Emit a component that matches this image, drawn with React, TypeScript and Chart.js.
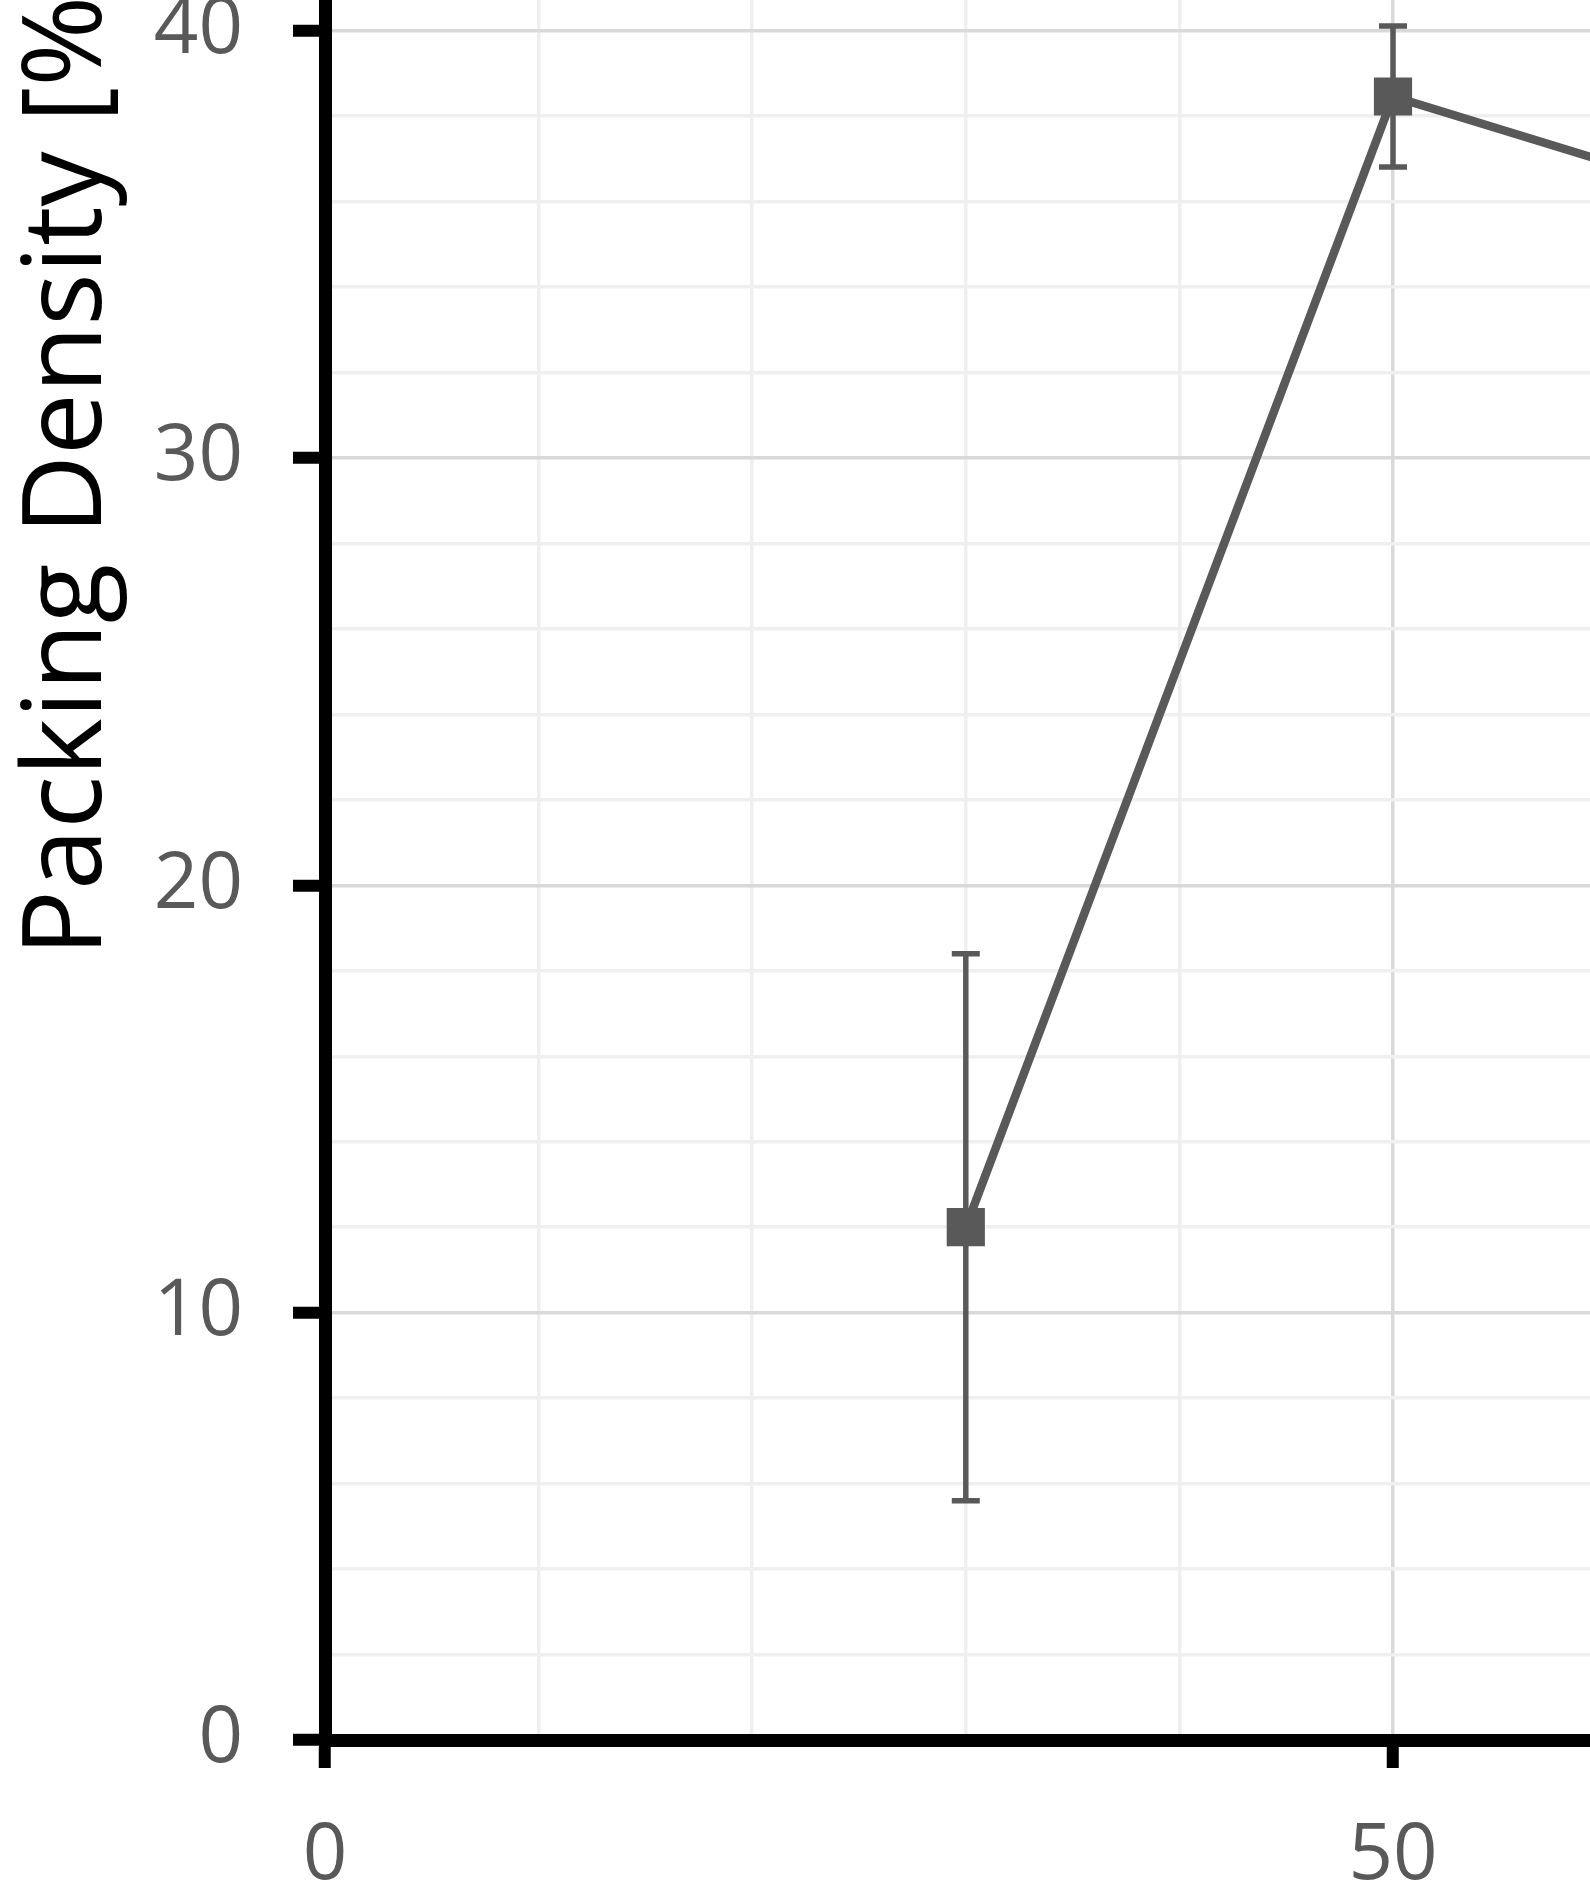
import React, { useEffect, useRef } from 'react';
import { Chart, registerables } from 'chart.js';

Chart.register(...registerables);

// Measured points: x position, mean packing density and its error (±)
const xValues = [30, 50, 70];
const densityMeans = [12.0, 38.46, 35.4];
const densityErrors = [6.4, 1.65, 1.5];

// Labelled ticks; the grid also carries unlabelled minor steps
const xTickLabels = [0, 50, 100];
const yTickLabels = [0, 10, 20, 30, 40, 50, 60];
const xMinorStep = 10;
const yMinorStep = 2;

const yAxisTitle = 'Packing Density [%]';

const LINE_GREY = '#595959';
const MAJOR_GRID = '#d9d9d9';
const MINOR_GRID = '#efefef';

const CANVAS_W = 2560;
const CANVAS_H = 2820;

const errorBarPlugin = {
  id: 'errorBars',
  beforeDatasetsDraw(chart: any) {
    const { ctx, chartArea, scales } = chart;
    const meta = chart.getDatasetMeta(0);
    ctx.save();
    ctx.beginPath();
    ctx.rect(chartArea.left, chartArea.top, chartArea.right - chartArea.left, chartArea.bottom - chartArea.top);
    ctx.clip();
    ctx.strokeStyle = LINE_GREY;
    ctx.lineWidth = 5.5;
    ctx.lineCap = 'butt';
    meta.data.forEach((pt: any, i: number) => {
      const x = pt.x;
      const yTop = scales.y.getPixelForValue(densityMeans[i] + densityErrors[i]);
      const yBot = scales.y.getPixelForValue(densityMeans[i] - densityErrors[i]);
      const cap = 14;
      ctx.beginPath();
      ctx.moveTo(x, yTop);
      ctx.lineTo(x, yBot);
      ctx.moveTo(x - cap, yTop);
      ctx.lineTo(x + cap, yTop);
      ctx.moveTo(x - cap, yBot);
      ctx.lineTo(x + cap, yBot);
      ctx.stroke();
    });
    ctx.restore();
  },
};

export default function App() {
  const canvasRef = useRef<HTMLCanvasElement | null>(null);

  useEffect(() => {
    if (!canvasRef.current) return;
    const points = xValues.map((x, i) => ({ x, y: densityMeans[i] }));
    const isMajorX = (v: number) => xTickLabels.includes(v);
    const isMajorY = (v: number) => yTickLabels.includes(v);

    const chart = new Chart(canvasRef.current, {
      type: 'line',
      data: {
        datasets: [
          {
            data: points,
            borderColor: LINE_GREY,
            backgroundColor: LINE_GREY,
            borderWidth: 8.5,
            pointStyle: 'rect',
            pointRadius: 27,
            pointBorderWidth: 0,
            pointBackgroundColor: LINE_GREY,
            tension: 0,
            fill: false,
          },
        ],
      },
      options: {
        animation: false,
        responsive: false,
        devicePixelRatio: 1,
        layout: { padding: { left: 0, top: 46, right: 99, bottom: 0 } },
        plugins: {
          legend: { display: false },
          tooltip: { enabled: false },
        },
        scales: {
          x: {
            type: 'linear',
            min: 0,
            max: 100,
            afterFit: (scale: any) => {
              scale.height = 210;
              scale.paddingLeft = 0;
              scale.paddingRight = 0;
            },
            border: { display: true, color: '#000000', width: 13 },
            grid: {
              color: (c: any) => (isMajorX(c.tick?.value) ? MAJOR_GRID : MINOR_GRID),
              lineWidth: 3.5,
              tickColor: (c: any) => (isMajorX(c.tick?.value) ? '#000000' : 'rgba(0,0,0,0)'),
              tickWidth: 12,
              tickLength: 28,
              drawTicks: true,
            },
            ticks: {
              stepSize: xMinorStep,
              autoSkip: false,
              maxRotation: 0,
              padding: 42,
              color: LINE_GREY,
              font: { family: '"Open Sans", sans-serif', size: 78 },
              callback: (v: any) => (isMajorX(Number(v)) ? String(v) : ''),
            },
          },
          y: {
            type: 'linear',
            min: 0,
            max: 60,
            afterFit: (scale: any) => {
              scale.width = 325;
              scale.paddingTop = 0;
              scale.paddingBottom = 0;
            },
            border: { display: true, color: '#000000', width: 13 },
            grid: {
              color: (c: any) => (isMajorY(c.tick?.value) ? MAJOR_GRID : MINOR_GRID),
              lineWidth: 3.5,
              tickColor: (c: any) => (isMajorY(c.tick?.value) ? '#000000' : 'rgba(0,0,0,0)'),
              tickWidth: 12,
              tickLength: 32,
              drawTicks: true,
            },
            ticks: {
              stepSize: yMinorStep,
              autoSkip: false,
              padding: 50,
              color: LINE_GREY,
              font: { family: '"Open Sans", sans-serif', size: 78 },
              callback: (v: any) => (isMajorY(Number(v)) ? String(v) : ''),
            },
            title: {
              display: true,
              text: yAxisTitle,
              color: '#000000',
              padding: { top: 4, bottom: 0 },
              font: { family: '"Open Sans", sans-serif', size: 110, weight: 'normal' },
            },
          },
        },
      },
      plugins: [errorBarPlugin],
    });

    return () => chart.destroy();
  }, []);

  return (
    <div
      style={{
        position: 'absolute',
        top: 0,
        left: 0,
        width: 1590,
        height: 1890,
        overflow: 'hidden',
        background: '#ffffff',
      }}
    >
      <canvas
        ref={canvasRef}
        width={CANVAS_W}
        height={CANVAS_H}
        style={{ position: 'absolute', top: -870, left: 0, width: CANVAS_W, height: CANVAS_H }}
      />
    </div>
  );
}
